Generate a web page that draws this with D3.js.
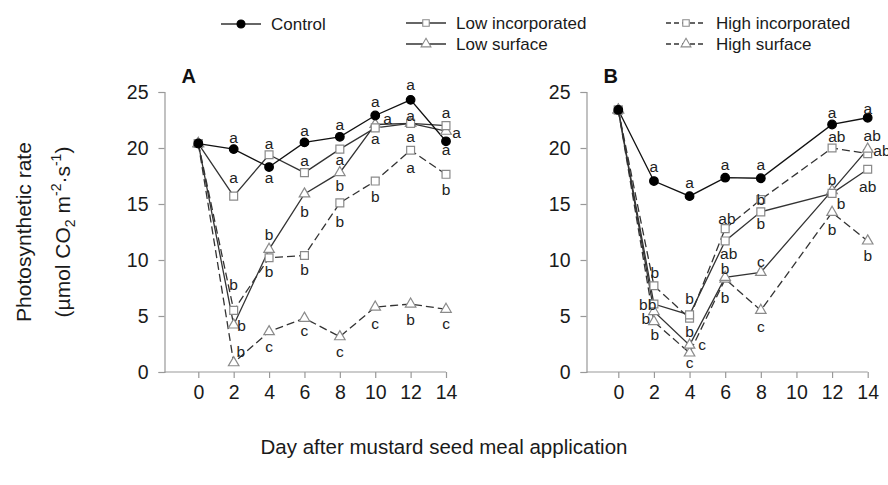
<!DOCTYPE html>
<html><head><meta charset="utf-8">
<script src="https://cdn.jsdelivr.net/npm/d3@7"></script>
<style>body{margin:0;background:#fff}svg{display:block;font-family:"Liberation Sans",Arial,sans-serif}</style>
</head><body>
<svg id="c" width="888" height="485"></svg>
<script>
// ---- data ----
const daysA = [0, 2, 4, 6, 8, 10, 12, 14];
const daysB = [0, 2, 4, 6, 8, 12, 14];
const xTickLabels = [0, 2, 4, 6, 8, 10, 12, 14];
const yTickLabels = [0, 5, 10, 15, 20, 25];

const controlA  = [20.4, 19.9, 18.3, 20.5, 21.0, 22.9, 24.3, 20.6];
const lowIncA   = [20.4, 15.7, 19.4, 17.8, 19.9, 21.8, 22.2, 22.0];
const lowSurfA  = [20.4, 4.2, 10.95, 15.9, 17.8, 22.1, 22.2, 21.5];
const highIncA  = [20.4, 5.5, 10.2, 10.4, 15.1, 17.05, 19.8, 17.65];
const highSurfA = [20.4, 0.83, 3.6, 4.8, 3.15, 5.8, 6.07, 5.6];

const controlB  = [23.4, 17.05, 15.7, 17.35, 17.3, 22.1, 22.7];
const lowIncB   = [23.4, 6.07, 5.1, 11.7, 14.3, 15.95, 18.1];
const highIncB  = [23.4, 7.7, 4.8, 12.8, 15.4, 20.0, 19.5];
const lowSurfB  = [23.4, 5.4, 2.4, 8.45, 8.9, 16.2, 19.9];
const highSurfB = [23.4, 4.5, 1.7, 8.3, 5.5, 14.25, 11.7];

const seriesNames = ["Control", "Low incorporated", "Low surface", "High incorporated", "High surface"];

// significance letters: [day, value, letter]
const lettersA = [
  [2,20.9,"a"],[2,17.3,"a"],[2,7.8,"b"],[2.45,4.1,"b"],[2.4,1.8,"b"],
  [4,20.4,"a"],[4,17.3,"a"],[4,12.2,"b"],[4,8.9,"b"],[4,2.26,"c"],
  [6,21.5,"a"],[6,18.8,"a"],[6,14.3,"b"],[6,9.1,"b"],[6,3.7,"c"],
  [8,22.05,"a"],[8,18.9,"a"],[8,16.6,"b"],[8,13.4,"b"],[8,1.8,"c"],
  [10,24.1,"a"],[10.7,22.6,"a"],[10,20.8,"a"],[10,15.65,"b"],[10,4.3,"c"],
  [12,25.6,"a"],[12,22.9,"a"],[12,21.0,"a"],[12,18.2,"a"],[12,4.6,"b"],
  [14,23.1,"a"],[14.6,21.3,"a"],[14,19.8,"a"],[14,16.25,"b"],[14,4.3,"c"]
];
const lettersB = [
  [2,18.3,"a"],[2.05,8.8,"b"],[1.65,6.0,"bb"],[1.55,4.7,"b"],[2.05,3.3,"b"],
  [4,16.85,"a"],[4,6.5,"b"],[4,3.6,"b"],[4.7,2.4,"c"],[4,0.83,"c"],
  [6,18.5,"a"],[6.1,13.7,"ab"],[6.2,10.5,"ab"],[6,9.2,"b"],[6,6.6,"b"],
  [8,18.5,"a"],[8,15.35,"b"],[8,13.2,"b"],[8,9.85,"c"],[8,4.05,"c"],
  [12,23.1,"a"],[12.27,20.95,"ab"],[12,17.1,"b"],[12.5,15.0,"b"],[12,12.7,"b"],
  [14,23.5,"a"],[14.25,21.1,"ab"],[14.8,19.7,"ab"],[14,16.5,"ab"],[14,10.4,"b"]
];

// ---- styles ----
const styles = [
  {sym: d3.symbolCircle, size: 58, fill: "#000", stroke: "#000", dash: null},
  {sym: d3.symbolSquare, size: 62, fill: "#fff", stroke: "#8a8a8a", dash: null},
  {sym: d3.symbolTriangle, size: 48, fill: "#fff", stroke: "#8a8a8a", dash: null},
  {sym: d3.symbolSquare, size: 62, fill: "#fff", stroke: "#8a8a8a", dash: "8,4"},
  {sym: d3.symbolTriangle, size: 48, fill: "#fff", stroke: "#8a8a8a", dash: "8,4"}
];

const svg = d3.select("#c");
const y = d3.scaleLinear().domain([0, 25]).range([372, 92]);

const panels = [
  {name: "A", days: daysA, data: [controlA, lowIncA, lowSurfA, highIncA, highSurfA], letters: lettersA,
   x: d3.scaleLinear().domain([0, 14]).range([198.3, 446]), yAxisX: 164.5},
  {name: "B", days: daysB, data: [controlB, lowIncB, lowSurfB, highIncB, highSurfB], letters: lettersB,
   x: d3.scaleLinear().domain([0, 14]).range([618.3, 867.7]), yAxisX: 586.5}
];

panels.forEach(p => {
  const g = svg.append("g");
  // y axis
  const ya = g.append("g").attr("transform", `translate(${p.yAxisX},0)`)
    .call(d3.axisLeft(y).tickValues(yTickLabels).tickSize(6).tickPadding(10));
  // x axis
  const xa = g.append("g").attr("transform", `translate(0,${y(0)})`)
    .call(d3.axisBottom(p.x).tickValues(xTickLabels).tickSize(6).tickPadding(7).tickSizeOuter(0));
  xa.select(".domain").attr("d", `M${p.yAxisX},0H${p.x(14)}`);
  [ya, xa].forEach(a => {
    a.select(".domain").attr("stroke", "#999").attr("stroke-width", 1.2);
    a.selectAll(".tick line").attr("stroke", "#999").attr("stroke-width", 1.2);
    a.selectAll(".tick text").attr("font-size", 19.5).attr("fill", "#1a1a1a")
      .attr("font-family", '"Liberation Sans",Arial,sans-serif');
  });
  xa.selectAll(".tick text").attr("dy", "0.71em");

  // panel letter
  g.append("text").attr("x", p.yAxisX + 17).attr("y", 83).attr("font-size", 20)
    .attr("font-weight", "bold").attr("fill", "#111").text(p.name);

  // lines (draw dashed/other first, control last)
  const order = [4, 3, 2, 1, 0];
  order.forEach(i => {
    const pts = p.days.map((d, k) => [d, p.data[i][k]]);
    g.append("path").datum(pts)
      .attr("d", d3.line().x(d => p.x(d[0])).y(d => y(d[1])))
      .attr("fill", "none").attr("stroke", i === 0 ? "#111" : "#333")
      .attr("stroke-width", 1.3)
      .attr("stroke-dasharray", styles[i].dash);
  });
  order.forEach(i => {
    const st = styles[i];
    g.append("g").selectAll("path").data(p.days.map((d, k) => [d, p.data[i][k]]))
      .join("path")
      .attr("d", d3.symbol().type(st.sym).size(st.size))
      .attr("transform", d => `translate(${p.x(d[0])},${y(d[1])})`)
      .attr("fill", st.fill).attr("stroke", st.stroke).attr("stroke-width", 1.2);
  });

  // letters
  g.append("g").selectAll("text").data(p.letters).join("text")
    .attr("x", d => p.x(d[0])).attr("y", d => y(d[1]) + 5)
    .attr("text-anchor", "middle").attr("font-size", 15.5).attr("fill", "#222")
    .text(d => d[2]);
});

// ---- legend ----
const legendPos = [
  {lx: 221, ly: 24}, {lx: 406, ly: 23}, {lx: 406, ly: 44}, {lx: 666, ly: 23}, {lx: 666, ly: 44}
];
const lg = svg.append("g");
seriesNames.forEach((name, i) => {
  const st = styles[i], pos = legendPos[i];
  lg.append("line").attr("x1", pos.lx).attr("x2", pos.lx + 40).attr("y1", pos.ly).attr("y2", pos.ly)
    .attr("stroke", "#333").attr("stroke-width", 1.3).attr("stroke-dasharray", st.dash ? "5,3" : null);
  lg.append("path").attr("d", d3.symbol().type(st.sym).size(i === 0 ? 50 : 42)())
    .attr("transform", `translate(${pos.lx + 20},${pos.ly})`)
    .attr("fill", st.fill).attr("stroke", st.stroke).attr("stroke-width", 1.1);
  lg.append("text").attr("x", pos.lx + 50).attr("y", pos.ly + 6).attr("font-size", 17)
    .attr("fill", "#1a1a1a").text(name);
});

// ---- axis titles ----
svg.append("text").attr("x", 444).attr("y", 454).attr("text-anchor", "middle")
  .attr("font-size", 20.5).attr("fill", "#1a1a1a").text("Day after mustard seed meal application");

const yt = svg.append("g").attr("transform", "translate(0,232) rotate(-90)");
yt.append("text").attr("x", 0).attr("y", 31).attr("text-anchor", "middle")
  .attr("font-size", 21).attr("fill", "#1a1a1a").text("Photosynthetic rate");
const t2 = yt.append("text").attr("x", 0).attr("y", 70).attr("text-anchor", "middle")
  .attr("font-size", 21).attr("fill", "#1a1a1a");
t2.append("tspan").text("(\u00b5mol CO");
t2.append("tspan").attr("font-size", 14).attr("dy", 5).text("2");
t2.append("tspan").attr("dy", -5).text(" m");
t2.append("tspan").attr("font-size", 14).attr("dy", -9).text("-2");
t2.append("tspan").attr("dy", 9).text("\u00b7s");
t2.append("tspan").attr("font-size", 14).attr("dy", -9).text("-1");
t2.append("tspan").attr("dy", 9).text(")");
</script>
</body></html>
